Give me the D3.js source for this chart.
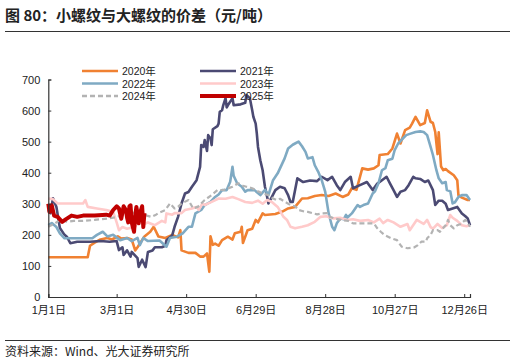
<!DOCTYPE html>
<html>
<head>
<meta charset="utf-8">
<script src="https://cdn.jsdelivr.net/npm/d3@7"></script>
<style>
  body { margin: 0; background: #fff; }
  svg text { font-family: "Liberation Sans", "Noto Sans CJK SC", sans-serif; fill: #222; }
  .cjk { font-family: "Noto Sans CJK SC", sans-serif; }
</style>
</head>
<body>
<svg id="chart" width="516" height="363"></svg>
<script>
// [day of year, 元/吨]
const s2020 = [[0,128],[34,128],[36,165],[40,175],[45,185],[51,190],[55,185],[60,195],[63,188],[68,190],[72,185],[75,150],[77,160],[83,195],[88,210],[91,226],[95,195],[101,190],[107,200],[112,192],[114,215],[115,150],[121,142],[127,142],[131,130],[134,130],[137,140],[139,81],[140,195],[142,168],[144,172],[147,165],[150,183],[155,194],[159,185],[161,205],[166,210],[167,226],[168,174],[172,215],[176,220],[179,248],[181,240],[185,269],[187,264],[196,267],[202,275],[207,285],[213,290],[219,317],[224,318],[230,325],[236,328],[242,325],[248,333],[254,322],[259,330],[262,350],[266,345],[271,414],[276,410],[281,414],[285,424],[286,457],[293,460],[297,478],[301,526],[304,494],[308,537],[312,545],[314,558],[317,580],[321,553],[325,560],[327,601],[330,564],[332,560],[334,531],[336,460],[337,530],[339,420],[341,408],[343,412],[345,405],[350,392],[353,376],[354,328],[357,320],[362,312],[364,312]];
const s2021 = [[0,280],[2,270],[4,318],[7,290],[10,222],[14,200],[16,194],[19,173],[25,178],[36,178],[45,180],[53,178],[59,180],[61,151],[64,160],[65,135],[68,150],[71,130],[72,145],[77,125],[78,97],[81,120],[84,96],[86,145],[90,150],[92,160],[98,160],[101,165],[102,183],[107,199],[109,226],[112,258],[115,301],[118,333],[121,338],[124,355],[128,376],[131,419],[132,489],[134,483],[135,505],[137,470],[138,521],[140,510],[141,489],[142,540],[146,550],[147,558],[148,596],[150,601],[151,617],[153,640],[154,610],[155,617],[159,640],[160,617],[166,620],[170,625],[171,650],[174,640],[176,601],[177,580],[179,558],[180,526],[181,483],[183,440],[185,408],[187,355],[189,320],[190,301],[193,322],[196,344],[200,355],[204,350],[207,328],[209,306],[211,306],[215,382],[220,370],[226,375],[232,373],[236,387],[241,376],[245,387],[249,360],[252,344],[256,370],[261,387],[263,350],[269,360],[275,370],[280,344],[284,365],[286,370],[292,387],[295,365],[298,344],[301,322],[304,339],[308,344],[311,360],[315,387],[317,382],[321,380],[325,370],[328,375],[332,344],[334,296],[337,310],[340,310],[343,300],[345,280],[349,285],[353,290],[357,269],[360,260],[362,253],[364,231]];
const s2022 = [[0,231],[3,238],[7,225],[10,205],[14,189],[20,189],[38,189],[42,200],[47,210],[51,195],[56,200],[62,183],[68,190],[72,180],[77,190],[79,167],[82,190],[86,180],[96,182],[102,162],[105,190],[111,194],[116,205],[121,226],[124,226],[127,269],[132,280],[135,296],[140,306],[144,322],[147,330],[150,344],[154,344],[157,371],[159,419],[160,390],[163,366],[167,355],[170,339],[172,344],[178,344],[183,328],[187,345],[190,328],[194,376],[198,398],[202,430],[204,446],[207,478],[211,490],[213,494],[216,500],[219,485],[222,467],[224,446],[228,450],[230,424],[233,403],[236,376],[239,339],[242,269],[245,226],[247,215],[249,237],[252,253],[255,250],[257,264],[258,255],[262,269],[267,296],[269,290],[272,296],[276,301],[280,333],[282,340],[285,366],[288,408],[291,415],[293,440],[297,445],[299,473],[302,494],[306,510],[309,521],[312,525],[317,531],[321,533],[324,531],[327,521],[330,483],[332,457],[335,408],[337,382],[340,366],[343,370],[344,344],[347,340],[349,301],[351,305],[354,322],[357,328],[361,328],[364,312]];
const s2023 = [[0,317],[4,315],[8,301],[30,301],[32,312],[34,290],[42,285],[50,280],[56,274],[59,240],[61,215],[64,225],[68,220],[75,226],[79,248],[83,235],[86,240],[92,231],[98,245],[101,240],[102,269],[107,265],[109,270],[115,270],[118,280],[124,285],[128,290],[130,280],[133,301],[135,296],[141,306],[147,317],[153,316],[159,322],[164,315],[170,306],[176,303],[181,310],[185,300],[189,312],[193,306],[198,290],[203,258],[206,248],[209,226],[213,221],[219,226],[224,231],[230,242],[235,258],[240,260],[246,253],[252,255],[258,248],[263,250],[269,245],[276,248],[281,240],[286,252],[289,238],[293,248],[298,240],[304,226],[310,235],[312,215],[318,248],[324,235],[327,248],[330,225],[332,220],[336,235],[340,222],[344,231],[347,264],[349,255],[353,245],[357,231],[361,228],[364,231]];
const s2024 = [[0,226],[5,235],[10,248],[17,242],[22,245],[30,245],[40,248],[52,253],[60,258],[64,265],[68,275],[73,270],[78,280],[81,270],[85,262],[89,258],[93,265],[95,270],[101,280],[105,301],[109,285],[112,290],[115,301],[121,312],[125,285],[129,290],[135,312],[141,328],[146,344],[152,345],[159,355],[164,366],[168,358],[171,355],[176,350],[181,340],[185,333],[190,328],[194,317],[197,312],[200,316],[205,305],[209,296],[213,292],[216,280],[220,276],[224,274],[228,270],[232,266],[236,269],[241,270],[243,258],[248,252],[253,248],[259,245],[263,237],[270,237],[276,237],[281,237],[284,221],[287,210],[290,200],[296,189],[301,183],[305,162],[310,157],[316,160],[319,167],[322,178],[326,178],[327,189],[330,200],[332,215],[336,215],[338,210],[343,231],[345,248],[347,231],[350,221],[353,231],[356,235],[360,248],[362,240],[364,226]];
const s2025 = [[0,300],[1,274],[3,295],[5,262],[8,258],[12,242],[15,250],[20,262],[25,258],[30,262],[40,262],[50,265],[53,262],[56,280],[59,292],[61,285],[63,252],[65,292],[67,280],[68,255],[69,240],[70,292],[71,295],[72,240],[74,210],[75,258],[76,290],[77,270],[78,237],[80,280],[81,292],[82,225],[83,270]];

const yearNames = ["2020年", "2021年", "2022年", "2023年", "2024年", "2025年"];
const yTicks = [0, 100, 200, 300, 400, 500, 600, 700];
const xTickDays = [0, 59, 119, 179, 239, 299, 359];

const series = [
  {name: yearNames[0], data: s2020, color: "#F08132", width: 2.6, dash: null},
  {name: yearNames[1], data: s2021, color: "#4B4A73", width: 2.6, dash: null},
  {name: yearNames[2], data: s2022, color: "#7FAAC3", width: 2.6, dash: null},
  {name: yearNames[3], data: s2023, color: "#FFCACA", width: 2.6, dash: null},
  {name: yearNames[4], data: s2024, color: "#B3B3B3", width: 2.2, dash: "5,3"},
  {name: yearNames[5], data: s2025, color: "#C00000", width: 4, dash: null}
];

const svg = d3.select("#chart");
const margin = {top: 79.5, left: 48.3, bottom: 66, right: 46};
const width = 516 - margin.left - margin.right;
const height = 363 - margin.top - margin.bottom;

const base = new Date(2021, 0, 1);
const toDate = d => d3.timeDay.offset(base, d);

const x = d3.scaleTime().domain([base, new Date(2021, 11, 31)]).range([0, width]);
const y = d3.scaleLinear().domain([0, 700]).range([height, 0]);

// title
svg.append("text").attr("class", "cjk").attr("x", 5).attr("y", 21)
  .style("font-size", "15px").style("font-weight", "bold")
  .text("图 80：小螺纹与大螺纹的价差（元/吨）");
svg.append("line").attr("x1", 5).attr("x2", 510).attr("y1", 31.5).attr("y2", 31.5)
  .attr("stroke", "#333").attr("stroke-width", 1);

const g = svg.append("g").attr("transform", `translate(${margin.left},${margin.top})`);

const line = d3.line()
  .x(d => x(toDate(d[0])))
  .y(d => y(d[1]));

g.selectAll(".series").data(series).enter()
  .append("path")
  .attr("class", "series")
  .attr("d", d => line(d.data))
  .attr("fill", "none")
  .attr("stroke", d => d.color)
  .attr("stroke-width", d => d.width)
  .attr("stroke-dasharray", d => d.dash)
  .attr("stroke-linejoin", "round");

// axes
const yAxis = d3.axisLeft(y).tickValues(yTicks).tickSize(-3).tickPadding(8);
const gy = g.append("g").call(yAxis);
const xAxis = d3.axisBottom(x).tickValues(xTickDays.map(toDate)).tickSize(-3).tickPadding(9)
  .tickFormat(d => `${d.getMonth() + 1}月${d.getDate()}日`);
const gx = g.append("g").attr("transform", `translate(0,${height})`).call(xAxis);

[gx, gy].forEach(a => {
  a.attr("font-family", null);
  a.select(".domain").attr("stroke", "#333").attr("stroke-width", 1.2);
  a.selectAll(".tick line").attr("stroke", "#333");
  a.selectAll("text").style("font-size", "11px").attr("fill", "#222");
});

// legend
const legend = svg.append("g");
series.forEach((s, i) => {
  const col = i % 2, row = Math.floor(i / 2);
  const lx = col === 0 ? 82 : 200, ly = 71 + row * 12.5;
  legend.append("line").attr("x1", lx).attr("x2", lx + 36).attr("y1", ly).attr("y2", ly)
    .attr("stroke", s.color).attr("stroke-width", s.name === "2025年" ? 4 : 2.6)
    .attr("stroke-dasharray", s.dash);
  legend.append("text").attr("x", lx + 40).attr("y", ly + 4)
    .style("font-size", "10.5px").text(s.name);
});

// source
svg.append("line").attr("x1", 5).attr("x2", 510).attr("y1", 340.5).attr("y2", 340.5)
  .attr("stroke", "#333").attr("stroke-width", 1);
svg.append("text").attr("class", "cjk").attr("x", 5).attr("y", 356)
  .style("font-size", "12px").text("资料来源：Wind、光大证券研究所");
</script>
</body>
</html>
